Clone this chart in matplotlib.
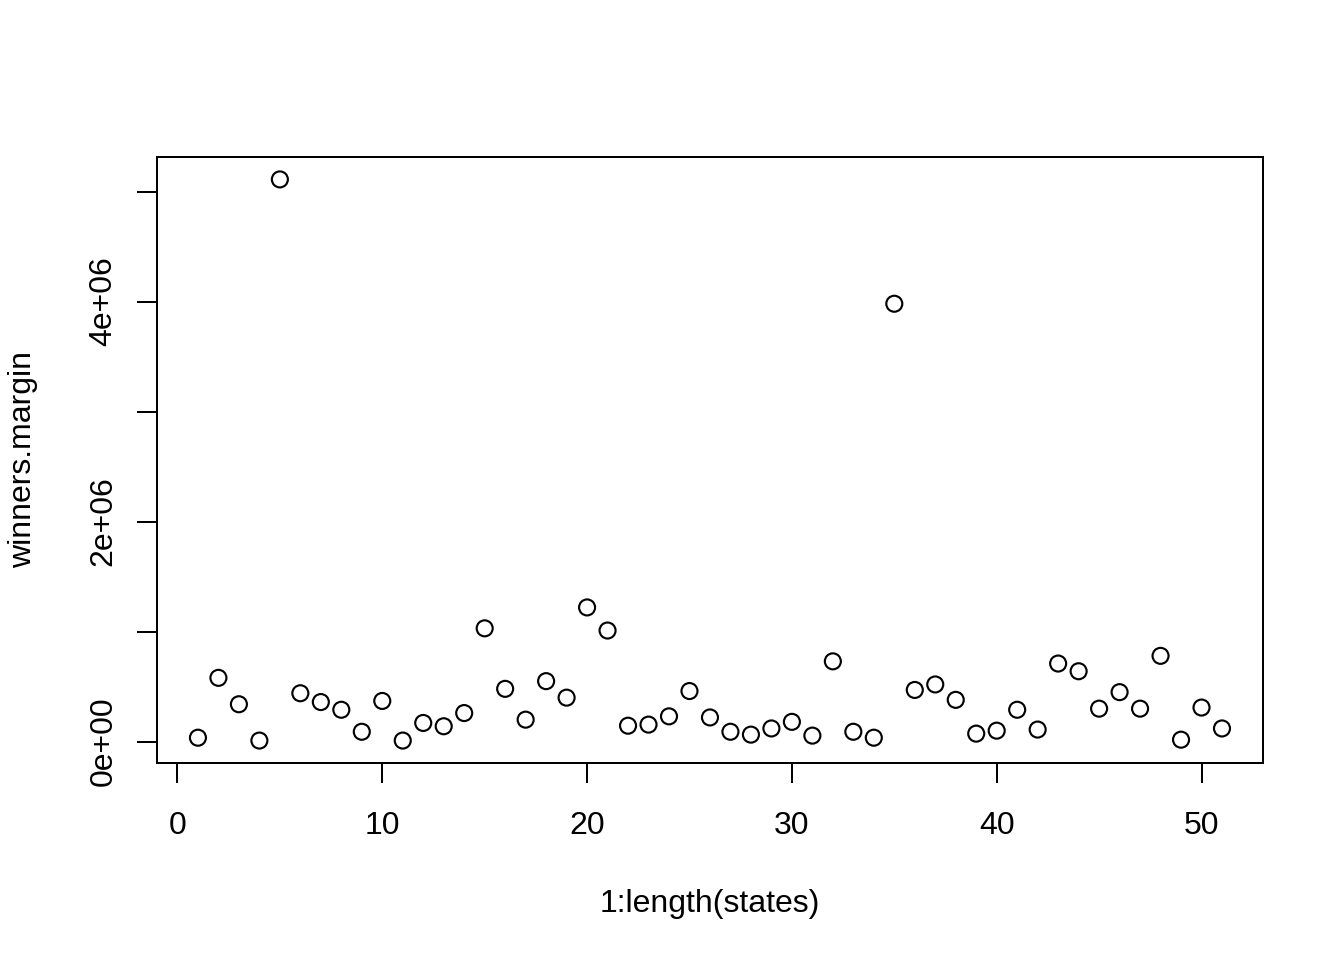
import matplotlib
matplotlib.use("Agg")
import matplotlib.pyplot as plt
import numpy as np

# winners.margin per state
margin = [0.036e6, 0.58e6, 0.34e6, 0.01e6, 5.11e6, 0.44e6, 0.36e6, 0.29e6, 0.09e6, 0.37e6,
          0.01e6, 0.17e6, 0.14e6, 0.26e6, 1.03e6, 0.48e6, 0.20e6, 0.55e6, 0.40e6, 1.22e6,
          1.01e6, 0.145e6, 0.155e6, 0.23e6, 0.46e6, 0.22e6, 0.09e6, 0.064e6, 0.12e6, 0.18e6,
          0.055e6, 0.73e6, 0.09e6, 0.036e6, 3.98e6, 0.47e6, 0.52e6, 0.38e6, 0.073e6, 0.10e6,
          0.29e6, 0.11e6, 0.71e6, 0.64e6, 0.30e6, 0.45e6, 0.30e6, 0.78e6, 0.018e6, 0.31e6,
          0.12e6]
idx = np.arange(1, len(margin) + 1)

xticks = [0, 10, 20, 30, 40, 50]
yticks = [0, 1e6, 2e6, 3e6, 4e6, 5e6]
ylabels = ["0e+00", "", "2e+06", "", "4e+06", ""]

plt.rcParams["font.family"] = ["Liberation Sans", "DejaVu Sans"]

fig = plt.figure(figsize=(7, 5), dpi=192)
ax = fig.add_axes([0.1168, 0.2052, 0.8229, 0.6313])

ax.scatter(idx, margin, s=36, facecolors="none", edgecolors="black", linewidths=0.8)

# R style 4% padding
xr = idx.max() - idx.min()
ax.set_xlim(idx.min() - 0.04 * xr, idx.max() + 0.04 * xr)
yr = max(margin) - min(margin)
ax.set_ylim(min(margin) - 0.04 * yr, max(margin) + 0.04 * yr)

ax.set_xticks(xticks)
ax.set_yticks(yticks)
ax.set_yticklabels(ylabels, rotation=90, va="center")
ax.tick_params(direction="out", length=7.5, width=0.75, labelsize=12)
ax.tick_params(axis="x", pad=10.5)
ax.tick_params(axis="y", pad=7)
for s in ax.spines.values():
    s.set_linewidth(0.75)

ax.set_xlabel("1:length(states)", fontsize=12, labelpad=18)
ax.set_ylabel("winners.margin", fontsize=12, labelpad=19)

fig.savefig("out.png", dpi=192)
